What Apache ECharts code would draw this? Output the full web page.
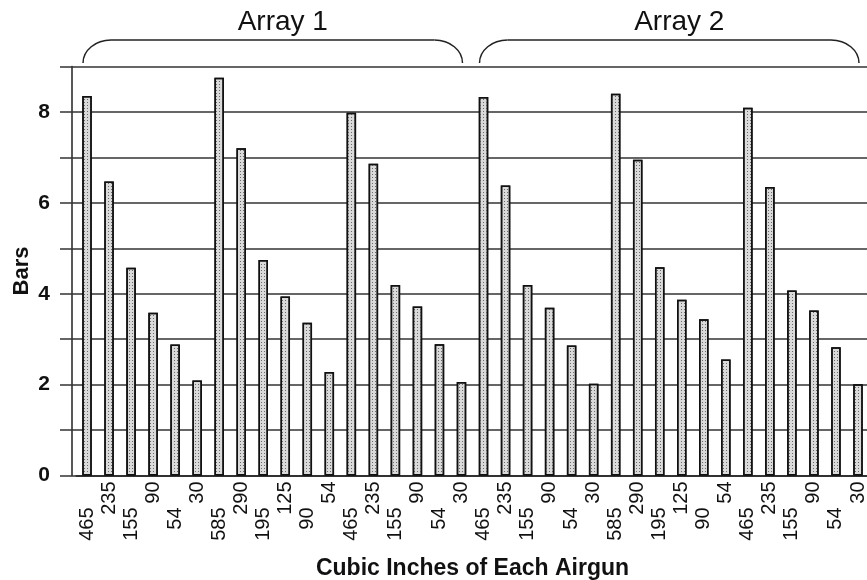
<!DOCTYPE html>
<html>
<head>
<meta charset="utf-8">
<script src="https://cdn.jsdelivr.net/npm/echarts@6/dist/echarts.min.js"></script>
<style>html,body{margin:0;padding:0;background:#fff;}#c{width:867px;height:580px;}</style>
</head>
<body>
<div id="c"></div>
<script>
const categories = ['465','235','155','90','54','30','585','290','195','125','90','54','465','235','155','90','54','30',
                    '465','235','155','90','54','30','585','290','195','125','90','54','465','235','155','90','54','30'];
const values = [8.35,6.47,4.57,3.58,2.88,2.09,8.75,7.20,4.74,3.94,3.36,2.28,7.98,6.86,4.19,3.72,2.89,2.06,
                8.33,6.38,4.19,3.69,2.86,2.02,8.40,6.95,4.58,3.87,3.44,2.55,8.09,6.35,4.07,3.63,2.82,2.01];
const groups = [{name:'Array 1', from:0, to:17},{name:'Array 2', from:18, to:35}];
const yLabels = [0,2,4,6,8];

const FONT = 'Liberation Sans, Arial, sans-serif';
const chart = echarts.init(document.getElementById('c'), null, {renderer:'canvas'});
const option = {
  animation:false,
  backgroundColor:'#fff',
  grid:{left:76, top:66.5, width:793, height:409, containLabel:false, outerBoundsMode:'none'},
  xAxis:{
    type:'category', data:categories,
    axisLine:{lineStyle:{color:'#222', width:1.5}},
    axisTick:{show:false},
    axisLabel:{
      rotate:90, margin:6, color:'#111', fontFamily:FONT, fontSize:20, interval:0, hideOverlap:false,
      formatter:(v,i)=> (i%2===0 ? '{lo|'+v+'}' : '{hi|'+v+'}'),
      rich:{lo:{padding:[0,26,0,0], fontSize:20, fontFamily:FONT, color:'#111'}, hi:{fontSize:20, fontFamily:FONT, color:'#111'}}
    },
    name:'Cubic Inches of Each Airgun', nameLocation:'middle', nameGap:82, nameMoveOverlap:false,
    nameTextStyle:{fontFamily:FONT, fontWeight:'bold', fontSize:23, color:'#111'}
  },
  yAxis:[{
    type:'value', min:0, max:9, interval:1,
    axisLine:{show:false},
    axisTick:{show:true, length:16, lineStyle:{color:'#333', width:1.5}},
    splitLine:{show:true, lineStyle:{color:'#333', width:1.6}},
    axisLabel:{margin:26, fontFamily:FONT, fontWeight:'bold', fontSize:21, color:'#111',
      formatter:v=> (yLabels.indexOf(v)>=0 ? String(v) : '')},
    name:'Bars', nameLocation:'middle', nameGap:43, nameMoveOverlap:false,
    nameTextStyle:{fontFamily:FONT, fontWeight:'bold', fontSize:22, color:'#111'}
  },{
    type:'value', min:0, max:9, interval:1, position:'left', offset:4,
    axisLine:{show:true, lineStyle:{color:'#222', width:1.5}},
    axisTick:{show:false}, axisLabel:{show:false}, splitLine:{show:false}
  }],
  series:[{
    type:'bar', data:values, barWidth:9.5,
    itemStyle:{
      color:'#dadada', borderColor:'#111', borderWidth:1.5,
      decal:{symbol:'rect', symbolSize:1, color:'#6a6a6a', dashArrayX:[1,2], dashArrayY:[1,2], rotation:0}
    }
  }]
};
chart.setOption(option);

function drawBrackets(){
  const y9 = chart.convertToPixel({yAxisIndex:0}, 9);
  const yb = y9 - 3.5, yt = y9 - 26.5, ry = yb - yt, rx = 28, k = 0.5523;
  const els = [];
  const st = {fill:null, stroke:'#222', lineWidth:1.5};
  groups.forEach(g=>{
    const x1 = chart.convertToPixel({xAxisIndex:0}, g.from) - 4;
    const x2 = chart.convertToPixel({xAxisIndex:0}, g.to) + 1;
    els.push({type:'bezierCurve', shape:{x1:x1, y1:yb, cpx1:x1, cpy1:yb-k*ry, cpx2:x1+rx-k*rx, cpy2:yt, x2:x1+rx, y2:yt}, style:st});
    els.push({type:'line', shape:{x1:x1+rx, y1:yt, x2:x2-rx, y2:yt}, style:st});
    els.push({type:'bezierCurve', shape:{x1:x2-rx, y1:yt, cpx1:x2-rx+k*rx, cpy1:yt, cpx2:x2, cpy2:yb-k*ry, x2:x2, y2:yb}, style:st});
    els.push({type:'text', x:(x1+x2)/2+10, y:yt-18, style:{text:g.name, font:'28px '+FONT, fill:'#111', textAlign:'center', textVerticalAlign:'middle'}});
  });
  chart.setOption({graphic:els});
}
drawBrackets();
</script>
</body>
</html>
